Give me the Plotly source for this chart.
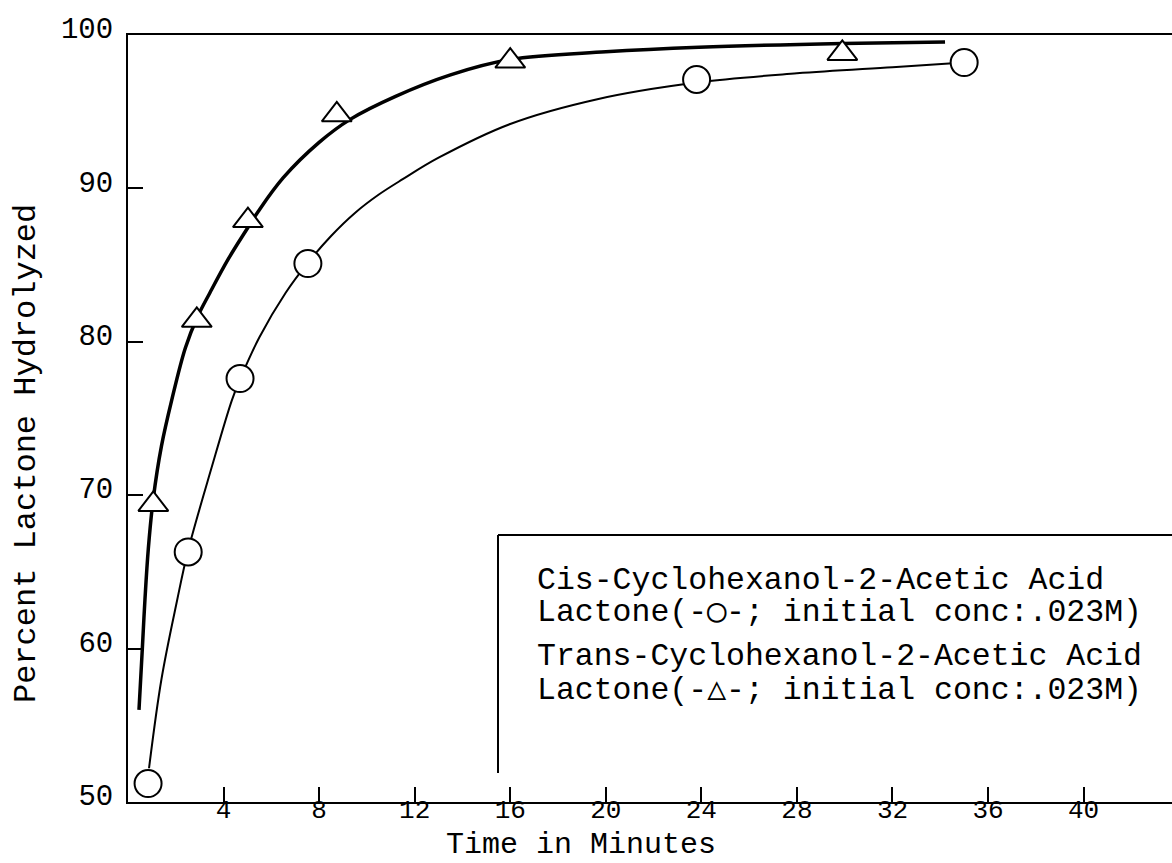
import plotly.graph_objects as go

# ---- data ----
trans_curve_x = [0.46, 0.6, 0.71, 0.85, 1.06, 1.4, 1.83, 2.4, 2.9, 3.43, 4.2, 5.0, 5.45, 6.5, 8.0, 9.3,
                 11.2, 13.5, 16.0, 20.0, 23.9, 29.9, 34.2]
trans_curve_y = [56.0, 60.0, 63.2, 66.5, 69.8, 73.2, 76.2, 79.6, 81.6, 83.2, 85.4, 87.4, 88.5, 90.7, 93.0, 94.5,
                 96.0, 97.4, 98.4, 98.9, 99.2, 99.45, 99.55]
trans_pts_x = [1.06, 2.88, 5.02, 8.74, 16.0, 29.9]
trans_pts_y = [69.4, 81.4, 87.9, 94.8, 98.3, 98.8]

# Cis lactone: fitted curve and measured points (circles)
cis_curve_x = [0.88, 1.4, 2.05, 2.5, 3.5, 4.35, 4.7, 5.5, 6.6, 7.5, 8.5, 9.5, 10.5, 11.5, 13.0, 16.0,
               19.6, 23.8, 28.0, 32.0, 35.0]
cis_curve_y = [52.2, 58.0, 63.1, 66.3, 71.8, 76.2, 77.6, 80.3, 83.2, 85.1, 86.9, 88.4, 89.6, 90.6, 92.0, 94.2,
               95.8, 96.9, 97.5, 97.9, 98.2]
cis_pts_x = [0.84, 2.52, 4.69, 7.53, 23.8, 35.0]
cis_pts_y = [51.2, 66.3, 77.6, 85.1, 97.1, 98.2]

x_ticks = [4, 8, 12, 16, 20, 24, 28, 32, 36, 40]
y_ticks = [50, 60, 70, 80, 90, 100]

legend_lines = [
    "Cis-Cyclohexanol-2-Acetic Acid",
    "Lactone(-◯-; initial conc:.023M)",
    "Trans-Cyclohexanol-2-Acetic Acid",
    "Lactone(-△-; initial conc:.023M)",
]
x_title = "Time in Minutes"
y_title = "Percent Lactone Hydrolyzed"

FONT = "Liberation Mono, Courier New, monospace"

fig = go.Figure()
fig.add_trace(go.Scatter(x=cis_curve_x, y=cis_curve_y, mode="lines",
                         line=dict(color="black", width=2, shape="spline", smoothing=1.0),
                         hoverinfo="skip", showlegend=False))
fig.add_trace(go.Scatter(x=trans_curve_x, y=trans_curve_y, mode="lines",
                         line=dict(color="black", width=3.5, shape="spline", smoothing=1.0),
                         hoverinfo="skip", showlegend=False))
fig.add_trace(go.Scatter(x=cis_pts_x, y=cis_pts_y, mode="markers",
                         marker=dict(symbol="circle", size=27, color="white",
                                     line=dict(color="black", width=2)),
                         showlegend=False))
fig.add_trace(go.Scatter(x=trans_pts_x, y=trans_pts_y, mode="markers",
                         marker=dict(symbol="triangle-up", size=26, color="white",
                                     line=dict(color="black", width=2)),
                         showlegend=False))

fig.update_xaxes(range=[0, 43.7], tickvals=x_ticks, ticktext=[str(v) for v in x_ticks],
                 ticks="inside", ticklen=15, tickwidth=2, tickcolor="black",
                 showline=True, linewidth=2, linecolor="black", mirror=True,
                 showgrid=False, zeroline=False, ticklabelstandoff=-17,
                 tickfont=dict(family=FONT, size=26, color="black"))
fig.update_yaxes(range=[50, 100], tickvals=y_ticks, ticktext=[str(v) for v in y_ticks],
                 ticks="inside", ticklen=15, tickwidth=2, tickcolor="black",
                 showline=True, linewidth=2, linecolor="black", mirror=False,
                 showgrid=False, zeroline=False, ticklabelstandoff=7, ticklabelshift=-7,
                 tickfont=dict(family=FONT, size=29, color="black"))

W, H = 1172, 863
L, R, T, B = 128, 0, 35, 61
pw, ph = W - L - R, H - T - B

def px(xp):
    return (xp - L) / pw

def py(yp):
    return (H - B - yp) / ph

# legend box (vertical left edge and top edge)
box_left, box_top, box_bottom = 498, 535, 773
fig.add_shape(type="line", xref="paper", yref="paper", x0=px(box_left), x1=px(box_left),
              y0=py(box_bottom), y1=py(box_top), line=dict(color="black", width=2))
fig.add_shape(type="line", xref="paper", yref="paper", x0=px(box_left), x1=1.0,
              y0=py(box_top), y1=py(box_top), line=dict(color="black", width=2))

line_centers = [580, 612, 656, 690]
for txt, yc in zip(legend_lines, line_centers):
    fig.add_annotation(text=txt, xref="paper", yref="paper", x=px(535), y=py(yc),
                       xanchor="left", yanchor="middle", showarrow=False,
                       font=dict(family=FONT, size=31.5, color="black"))

fig.add_annotation(text=x_title, xref="paper", yref="paper", x=px(581), y=py(845),
                   xanchor="center", yanchor="middle", showarrow=False, borderpad=0,
                   font=dict(family=FONT, size=30, color="black"))
fig.add_annotation(text=y_title, xref="paper", yref="paper", x=px(26), y=py(454),
                   xanchor="center", yanchor="middle", showarrow=False, textangle=-90,
                   font=dict(family=FONT, size=32, color="black"))

fig.update_layout(width=W, height=H, margin=dict(l=L, r=R, t=T, b=B, pad=0),
                  paper_bgcolor="white", plot_bgcolor="white", showlegend=False)

fig.write_html("out.html")
